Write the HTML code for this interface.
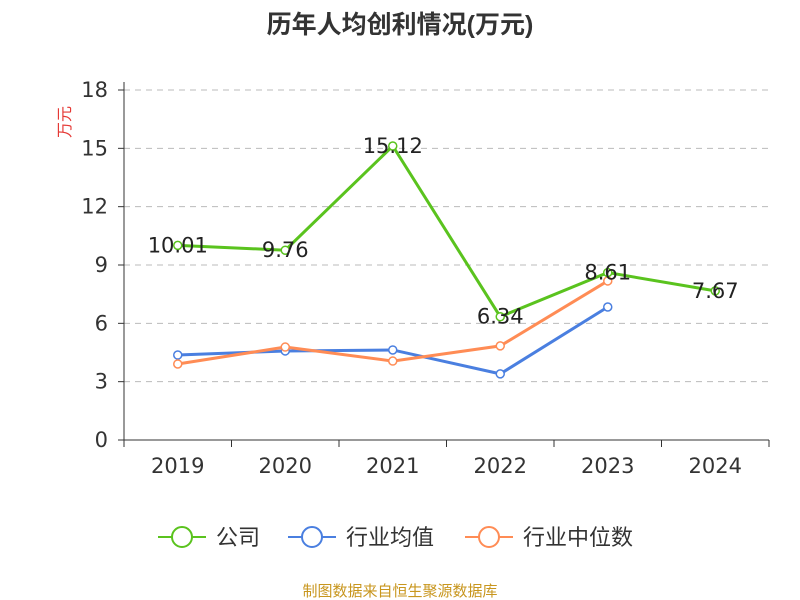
<!DOCTYPE html>
<html><head><meta charset="utf-8"><style>
body{margin:0;background:#fff;}
svg{display:block;font-family:"DejaVu Sans","Noto Sans CJK SC",sans-serif;}
</style></head><body>
<svg id="chart" width="800" height="600">
<text x="400" y="33" text-anchor="middle" font-size="25" font-weight="bold" fill="#333" font-family="Liberation Sans, Noto Sans CJK SC, sans-serif">历年人均创利情况(万元)</text>
<text transform="translate(70,122) rotate(-90)" text-anchor="middle" font-size="16" fill="#e53935">万元</text>
<g id="grid"></g><g id="axes"></g><g id="series"></g>
<g id="legend"></g>
<text x="400" y="596" text-anchor="middle" font-size="15" fill="#c8961e">制图数据来自恒生聚源数据库</text>
</svg>
<script>
const categories=["2019","2020","2021","2022","2023","2024"];
const company=[10.01,9.76,15.12,6.34,8.61,7.67];
const industryAvg=[4.37,4.58,4.63,3.40,6.84,null];
const industryMedian=[3.91,4.78,4.06,4.84,8.18,null];
const yTicks=[0,3,6,9,12,15,18];
const NS="http://www.w3.org/2000/svg";
const x0=124,x1=769,yb=440,yt=90,ymax=18;
const band=(x1-x0)/categories.length;
const xs=i=>x0+band*(i+0.5);
const ys=v=>yb-(v/ymax)*(yb-yt);
function mk(tag,attrs,parent){const e=document.createElementNS(NS,tag);for(const k in attrs)e.setAttribute(k,attrs[k]);parent.appendChild(e);return e;}
const grid=document.getElementById('grid'),axes=document.getElementById('axes'),series=document.getElementById('series'),legend=document.getElementById('legend');
yTicks.forEach(t=>{
  if(t>0){const l=mk('line',{x1:x0,x2:x1,y1:ys(t),y2:ys(t),stroke:'#bbb','stroke-dasharray':'6,5'},grid);
  }
  const tk=mk('line',{x1:x0-6,x2:x0,y1:ys(t),y2:ys(t),stroke:'#333'},axes);
  
  const tx=mk('text',{x:x0-16,y:ys(t)+7,'text-anchor':'end','font-size':21,fill:'#333'},axes);
  tx.textContent=t;
  
});
const ya=mk('line',{x1:x0,x2:x0,y1:yt-8,y2:yb,stroke:'#333'},axes);

const xa=mk('line',{x1:x0,x2:x1,y1:yb,y2:yb,stroke:'#333'},axes);

for(let i=0;i<=categories.length;i++){const tk=mk('line',{x1:x0+band*i,x2:x0+band*i,y1:yb,y2:yb+7,stroke:'#333'},axes);
}
categories.forEach((c,i)=>{const t=mk('text',{x:xs(i),y:473,'text-anchor':'middle','font-size':21,fill:'#333'},axes);t.textContent=c;
});
function draw(vals,color,name,labels){
  const pts=vals.map((v,i)=>v==null?null:[xs(i),ys(v)]).filter(p=>p);
  const pl=mk('polyline',{points:pts.map(p=>p.join(',')).join(' '),fill:'none',stroke:color,'stroke-width':3},series);
  
  vals.forEach((v,i)=>{if(v==null)return;
    const c=mk('circle',{cx:xs(i),cy:ys(v),r:4,fill:'#fff',stroke:color,'stroke-width':1.5},series);
    
    if(labels){const t=mk('text',{x:xs(i),y:ys(v)+7,'text-anchor':'middle','font-size':21,fill:'#222'},series);t.textContent=v.toFixed(2);
      }
  });
}
draw(industryAvg,'#4a7fe0','industry-average',false);
draw(industryMedian,'#ff8c55','industry-median',false);
draw(company,'#5ac31e','company',true);
const items=[['公司','#5ac31e',158],['行业均值','#4a7fe0',288],['行业中位数','#ff8c55',465]];
items.forEach(([n,c,x])=>{
  const g=mk('g',{},legend);
  mk('line',{x1:x,x2:x+48,y1:537,y2:537,stroke:c,'stroke-width':2},g);
  mk('circle',{cx:x+24,cy:537,r:10,fill:'#fff',stroke:c,'stroke-width':2},g);
  const t=mk('text',{x:x+58,y:545,'font-size':22,fill:'#333'},g);t.textContent=n;
});
</script>
</body></html>
